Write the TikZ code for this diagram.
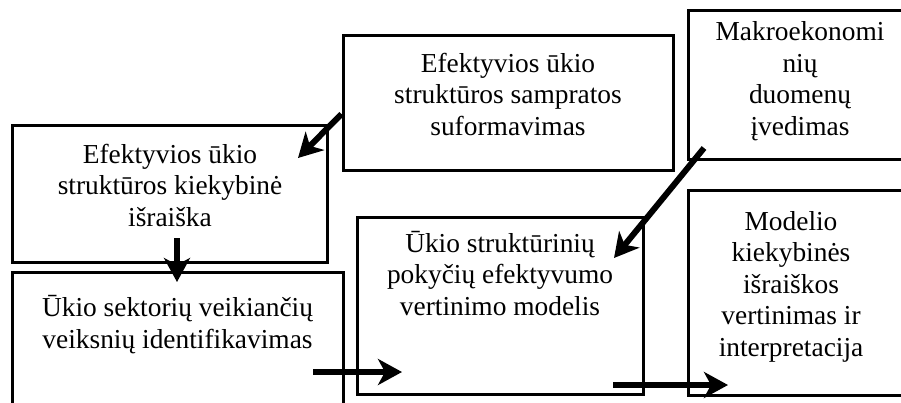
\documentclass[tikz,border=0pt]{standalone}
\usepackage{fontspec}
\setmainfont{Liberation Serif}
\usetikzlibrary{arrows.meta}
\tikzset{
    box/.style={rectangle,draw,line width=3pt,inner sep=0pt},
    txt/.style={align=center,inner sep=0pt,anchor=base,font=\fontsize{27.4}{31.5}\selectfont},
    flow/.style={line width=6pt,arrows={-Stealth[length=24pt,width=26pt,inset=7pt]}},
    }
\begin{document}
\begin{tikzpicture}[x=1pt,y=-1pt]
	\clip (0,0) rectangle (901,402);

	\node[box,minimum width=330pt,minimum height=135pt] (sampr) at (508,102.5) {};
	\node[box,minimum width=315pt,minimum height=137pt] (kiek) at (169.5,193.5) {};
	\node[box,minimum width=331pt,minimum height=158pt] (sekt) at (177.5,351) {};
	\node[box,minimum width=286pt,minimum height=177pt] (model) at (500,305.5) {};
	\node[box,minimum width=232pt,minimum height=205pt] (vert) at (804,292.5) {};
	\node[box,minimum width=232pt,minimum height=149pt] (makro) at (804,84.5) {};

	% base = last line
	\node[txt] (samprT) at (508,135) {Efektyvios ūkio\\struktūros sampratos\\suformavimas};
	\node[txt] (kiekT) at (170,226) {Efektyvios ūkio\\struktūros kiekybinė\\išraiška};
	\node[txt] (sektT) at (177.5,348) {Ūkio sektorių veikiančių\\veiksnių identifikavimas};
	\node[txt] (modelT) at (500,315) {Ūkio struktūrinių\\pokyčių efektyvumo\\vertinimo modelis};
	\node[txt] (vertT) at (791,356) {Modelio\\kiekybinės\\išraiškos\\vertinimas ir\\interpretacija};
	\node[txt] (makroT) at (800,135) {Makroekonomi\\nių\\duomenų\\įvedimas};

	\coordinate (kiekIn) at (298,158);
	\coordinate (kiekOut) at (177,238);
	\coordinate (sektIn) at (177,282);
	\coordinate (sektOut) at (313,372);
	\coordinate (modelIn) at (402,372);
	\coordinate (modelIn2) at (614,258);
	\coordinate (makroOut) at (704,148);
	\coordinate (modelOut) at (613,385);
	\coordinate (vertIn) at (728,385);

	\draw[flow] (sampr.west |- 0,114) to (kiekIn);
	\draw[flow] (kiekOut) to (sektIn);
	\draw[flow] (makroOut) to (modelIn2);
	\draw[flow] (sektOut) to (modelIn);
	\draw[flow] (modelOut) to (vertIn);
\end{tikzpicture}
\end{document}
